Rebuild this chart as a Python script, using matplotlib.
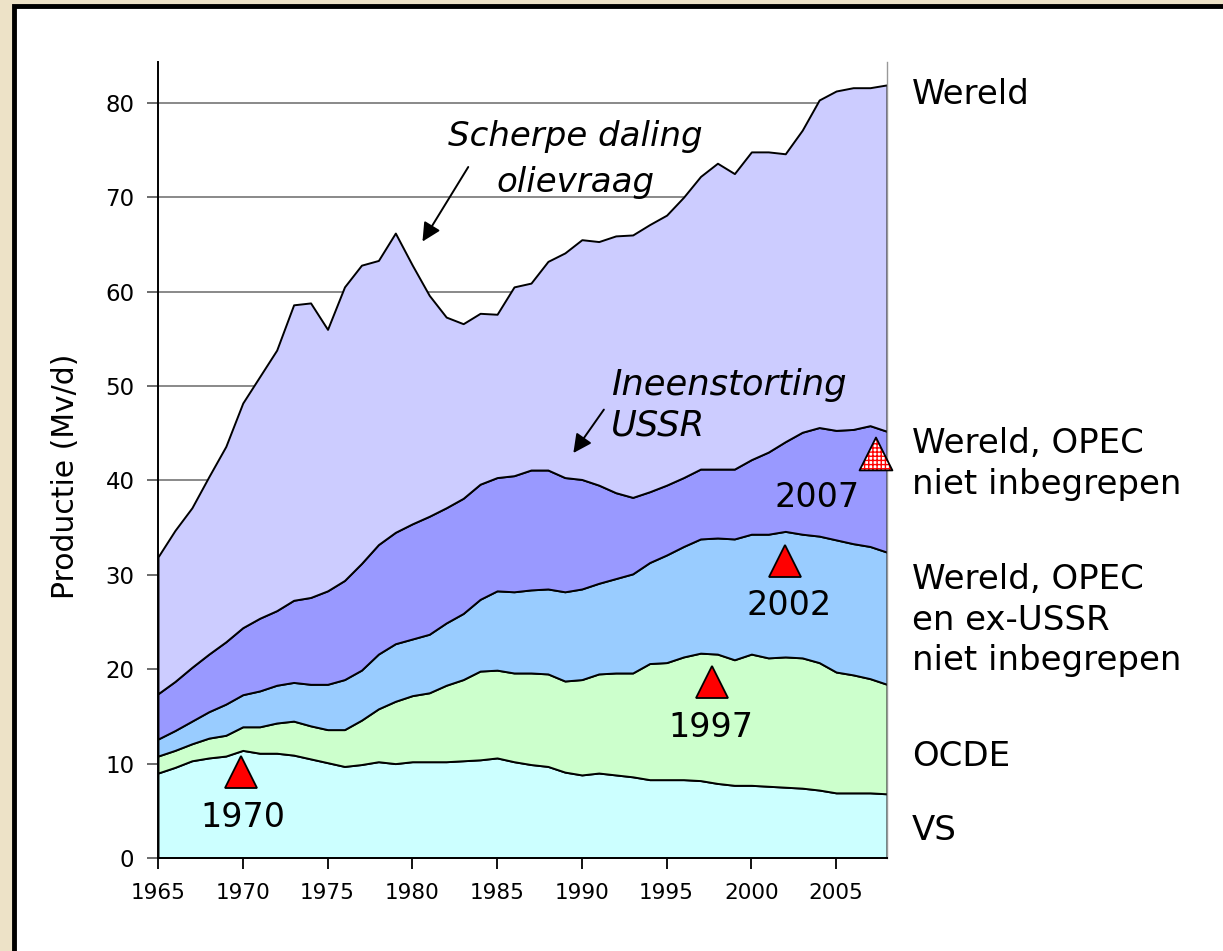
import matplotlib.pyplot as plt
import numpy as np

# jaren en productie (Mv/d), cumulatieve bovengrenzen per laag
jaren = list(range(1965, 2009))
vs = [9.0, 9.6, 10.3, 10.6, 10.8, 11.4, 11.1, 11.1, 10.9, 10.5,
      10.1, 9.7, 9.9, 10.2, 10.0, 10.2, 10.2, 10.2, 10.3, 10.4,
      10.6, 10.2, 9.9, 9.7, 9.1, 8.8, 9.0, 8.8, 8.6, 8.3,
      8.3, 8.3, 8.2, 7.9, 7.7, 7.7, 7.6, 7.5, 7.4, 7.2,
      6.9, 6.9, 6.9, 6.8]
ocde = [10.8, 11.4, 12.1, 12.7, 13.0, 13.9, 13.9, 14.3, 14.5, 14.0,
        13.6, 13.6, 14.6, 15.8, 16.6, 17.2, 17.5, 18.3, 18.9, 19.8,
        19.9, 19.6, 19.6, 19.5, 18.75, 18.9, 19.5, 19.6, 19.6, 20.6,
        20.7, 21.3, 21.7, 21.6, 21.0, 21.6, 21.2, 21.3, 21.2, 20.7,
        19.7, 19.4, 19.0, 18.4]
zonder_opec_ussr = [12.6, 13.5, 14.5, 15.5, 16.3, 17.3, 17.7, 18.3, 18.6, 18.4,
                    18.4, 18.9, 19.9, 21.6, 22.7, 23.2, 23.7, 24.9, 25.9, 27.4,
                    28.3, 28.2, 28.4, 28.5, 28.2, 28.5, 29.1, 29.6, 30.1, 31.3,
                    32.1, 33.0, 33.8, 33.9, 33.8, 34.3, 34.3, 34.6, 34.3, 34.1,
                    33.7, 33.3, 33.0, 32.4]
zonder_opec = [17.4, 18.7, 20.2, 21.6, 22.9, 24.4, 25.4, 26.2, 27.3, 27.6,
               28.3, 29.4, 31.2, 33.2, 34.5, 35.4, 36.2, 37.1, 38.1, 39.6,
               40.3, 40.5, 41.1, 41.1, 40.3, 40.1, 39.5, 38.7, 38.2, 38.8,
               39.5, 40.3, 41.2, 41.2, 41.2, 42.2, 43.0, 44.1, 45.1, 45.6,
               45.3, 45.4, 45.8, 45.2]
wereld = [31.9, 34.7, 37.1, 40.4, 43.6, 48.2, 51.0, 53.8, 58.6, 58.8,
          56.0, 60.5, 62.8, 63.3, 66.2, 62.8, 59.6, 57.3, 56.6, 57.7,
          57.6, 60.5, 60.9, 63.2, 64.1, 65.5, 65.3, 65.9, 66.0, 67.1,
          68.1, 70.0, 72.2, 73.6, 72.5, 74.8, 74.8, 74.6, 77.1, 80.3,
          81.25, 81.6, 81.6, 81.9]

laag_kleuren = ['#CCFFFF', '#CCFFCC', '#99CCFF', '#9999FF', '#CCCCFF']
rechts_labels = ['VS', 'OCDE', 'Wereld, OPEC\nen ex-USSR\nniet inbegrepen',
                 'Wereld, OPEC\nniet inbegrepen', 'Wereld']
rechts_y = [830, 757, 620, 464, 95]   # pixel hoogte van de labels

# driehoekjes (piekjaren) en hun labels
piek_x = [1969.9, 1997.7, 2002.0]
piek_y = [9.1, 18.6, 31.5]
piek_2007 = (2007.35, 42.8)
piek_tekst = ['1970', '1997', '2002', '2007']
piek_tekst_x = [1970.0, 1997.6, 2002.2, 2003.9]
piek_tekst_y = [4.3, 13.8, 26.7, 38.2]

W, H = 1223, 951
fig = plt.figure(figsize=(W / 100, H / 100), dpi=100)
fig.patch.set_facecolor('#EDE2C7')

# wit paneel met zwarte rand (valt rechts/onder buiten beeld)
paneel = plt.Rectangle((14 / W, -0.05), 1.1, 1 - 6 / H + 0.05, transform=fig.transFigure,
                       facecolor='white', edgecolor='black', linewidth=3.5, zorder=-5)
fig.patches.append(paneel)

ax = fig.add_axes([158 / W, 1 - 858 / H, (887 - 158) / W, (858 - 61.7) / H])
ax.set_facecolor('none')

lagen = [np.zeros(len(jaren)), vs, ocde, zonder_opec_ussr, zonder_opec, wereld]
for i in range(5):
    ax.fill_between(jaren, lagen[i], lagen[i + 1], facecolor=laag_kleuren[i],
                    edgecolor='black', linewidth=1.4, zorder=2)

ax.set_xlim(1965, 2008)
ax.set_ylim(0, (858 - 61.7) / 9.44)
ax.set_yticks(range(0, 81, 10))
ax.set_xticks(range(1965, 2006, 5))
ax.yaxis.grid(True, color='#808080', linewidth=1.3, zorder=1)
ax.set_axisbelow(True)
ax.spines['top'].set_visible(False)
ax.spines['right'].set_color('#999999')
ax.spines['right'].set_linewidth(1)
ax.spines['left'].set_linewidth(1.4)
ax.spines['bottom'].set_linewidth(1.4)
ax.tick_params(axis='y', length=8, width=1.3, color='#606060', labelsize=16.5, pad=9)
ax.tick_params(axis='x', length=8, width=1.3, labelsize=15.5, pad=10)
ax.set_ylabel('Productie (Mv/d)', fontsize=21.5)
ax.yaxis.set_label_coords(-0.107, 0.479)

# driehoeken
ax.plot(piek_x, piek_y, linestyle='none', marker='^', markersize=23,
        markerfacecolor='red', markeredgecolor='black', markeredgewidth=1.3,
        zorder=5, clip_on=False)
ax.scatter([piek_2007[0]], [piek_2007[1]], marker='^', s=560, facecolor='white',
           edgecolor='red', hatch='++++', linewidth=0, zorder=5, clip_on=False)
ax.scatter([piek_2007[0]], [piek_2007[1]], marker='^', s=560, facecolor='none',
           edgecolor='black', linewidth=1.3, zorder=6, clip_on=False)
for t, x, y in zip(piek_tekst, piek_tekst_x, piek_tekst_y):
    ax.text(x, y, t, fontsize=24, ha='center', va='center', zorder=6)

# annotaties: tekst en pijlen apart
pijl = dict(arrowstyle='-|>', color='black', lw=1.4, mutation_scale=28,
            shrinkA=0, shrinkB=0)
ax.text(1989.6, 74.0, 'Scherpe daling\nolievraag', fontsize=24.5, style='italic',
        ha='center', va='center', linespacing=1.5, zorder=7)
ax.annotate('', xy=(1980.6, 65.3), xytext=(1983.3, 73.2), arrowprops=pijl, zorder=7)
ax.text(1991.7, 48.0, 'Ineenstorting\nUSSR', fontsize=25.5, style='italic',
        ha='left', va='center', linespacing=1.25, zorder=7)
ax.annotate('', xy=(1989.5, 42.9), xytext=(1991.3, 47.5), arrowprops=pijl, zorder=7)

for lab, py in zip(rechts_labels, rechts_y):
    fig.text(912 / W, 1 - py / H, lab, fontsize=24.5, ha='left', va='center',
             linespacing=1.28)

fig.savefig('out.png', dpi=100, facecolor=fig.get_facecolor())
